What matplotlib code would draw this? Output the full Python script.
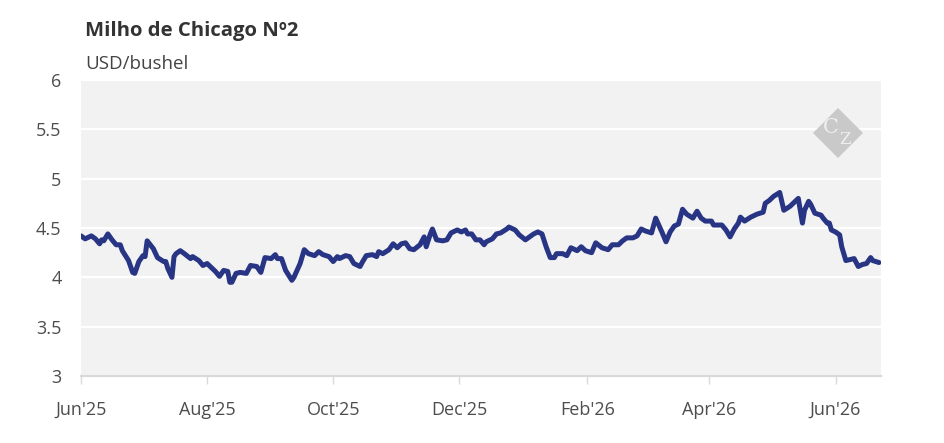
import matplotlib
matplotlib.use("Agg")
import matplotlib.pyplot as plt
from matplotlib.patches import Polygon
import pandas as pd

plt.rcParams['font.family'] = ['Open Sans', 'DejaVu Sans']

# data (USD/bushel)
dates = [
    "2025-06-01", "2025-06-03", "2025-06-06", "2025-06-08", "2025-06-10", "2025-06-11", "2025-06-12",
    "2025-06-14", "2025-06-16", "2025-06-18", "2025-06-20", "2025-06-21", "2025-06-24", "2025-06-26",
    "2025-06-27", "2025-06-29", "2025-07-01", "2025-07-02", "2025-07-03", "2025-07-06", "2025-07-08",
    "2025-07-11", "2025-07-12", "2025-07-13", "2025-07-15", "2025-07-16", "2025-07-17", "2025-07-19",
    "2025-07-21", "2025-07-24", "2025-07-25", "2025-07-28", "2025-07-30", "2025-08-01", "2025-08-03",
    "2025-08-05", "2025-08-07", "2025-08-09", "2025-08-11", "2025-08-12", "2025-08-13", "2025-08-15",
    "2025-08-17", "2025-08-20", "2025-08-22", "2025-08-25", "2025-08-27", "2025-08-29", "2025-09-01",
    "2025-09-03", "2025-09-04", "2025-09-06", "2025-09-08", "2025-09-11", "2025-09-12", "2025-09-15",
    "2025-09-17", "2025-09-19", "2025-09-22", "2025-09-24", "2025-09-26", "2025-09-29", "2025-10-01",
    "2025-10-03", "2025-10-04", "2025-10-07", "2025-10-09", "2025-10-11", "2025-10-14", "2025-10-15",
    "2025-10-17", "2025-10-20", "2025-10-22", "2025-10-23", "2025-10-25", "2025-10-28", "2025-10-30",
    "2025-11-01", "2025-11-03", "2025-11-05", "2025-11-07", "2025-11-09", "2025-11-12", "2025-11-14",
    "2025-11-15", "2025-11-17", "2025-11-18", "2025-11-20", "2025-11-23", "2025-11-25", "2025-11-27",
    "2025-11-30", "2025-12-02", "2025-12-04", "2025-12-05", "2025-12-07", "2025-12-09", "2025-12-11",
    "2025-12-13", "2025-12-14", "2025-12-16", "2025-12-17", "2025-12-19", "2025-12-21", "2025-12-24",
    "2025-12-25", "2025-12-28", "2025-12-30", "2026-01-02", "2026-01-04", "2026-01-06", "2026-01-08",
    "2026-01-10", "2026-01-12", "2026-01-14", "2026-01-16", "2026-01-17", "2026-01-20", "2026-01-22",
    "2026-01-24", "2026-01-27", "2026-01-29", "2026-01-31", "2026-02-03", "2026-02-05", "2026-02-08",
    "2026-02-11", "2026-02-13", "2026-02-16", "2026-02-18", "2026-02-20", "2026-02-23", "2026-02-25",
    "2026-02-27", "2026-03-01", "2026-03-04", "2026-03-06", "2026-03-09", "2026-03-11", "2026-03-13",
    "2026-03-15", "2026-03-17", "2026-03-19", "2026-03-21", "2026-03-24", "2026-03-26", "2026-03-28",
    "2026-03-30", "2026-04-02", "2026-04-03", "2026-04-07", "2026-04-09", "2026-04-11", "2026-04-13",
    "2026-04-15", "2026-04-16", "2026-04-18", "2026-04-21", "2026-04-24", "2026-04-27", "2026-04-28",
    "2026-04-30", "2026-05-02", "2026-05-05", "2026-05-07", "2026-05-10", "2026-05-12", "2026-05-14",
    "2026-05-16", "2026-05-17", "2026-05-19", "2026-05-20", "2026-05-22", "2026-05-25", "2026-05-26",
    "2026-05-28", "2026-05-29", "2026-05-30", "2026-06-01", "2026-06-03", "2026-06-04", "2026-06-06",
    "2026-06-08", "2026-06-10", "2026-06-12", "2026-06-14", "2026-06-16", "2026-06-18", "2026-06-19",
    "2026-06-22",
]
prices = [
    4.42, 4.39, 4.42, 4.39, 4.34, 4.38, 4.37,
    4.44, 4.38, 4.33, 4.33, 4.27, 4.17, 4.05,
    4.04, 4.16, 4.22, 4.21, 4.37, 4.29, 4.20,
    4.16, 4.16, 4.09, 4.00, 4.21, 4.24, 4.27,
    4.24, 4.19, 4.21, 4.17, 4.12, 4.14, 4.10,
    4.06, 4.01, 4.07, 4.06, 3.95, 3.95, 4.04,
    4.05, 4.04, 4.12, 4.11, 4.05, 4.20, 4.19,
    4.23, 4.19, 4.19, 4.07, 3.97, 4.00, 4.14,
    4.28, 4.24, 4.22, 4.26, 4.23, 4.21, 4.16,
    4.21, 4.19, 4.22, 4.21, 4.14, 4.11, 4.15,
    4.22, 4.23, 4.21, 4.26, 4.24, 4.28, 4.34,
    4.30, 4.34, 4.35, 4.29, 4.28, 4.33, 4.41,
    4.31, 4.44, 4.49, 4.38, 4.37, 4.38, 4.45,
    4.48, 4.46, 4.48, 4.44, 4.44, 4.38, 4.38,
    4.33, 4.36, 4.38, 4.39, 4.44, 4.45, 4.49,
    4.51, 4.48, 4.43, 4.38, 4.41, 4.44, 4.46,
    4.44, 4.31, 4.20, 4.20, 4.24, 4.24, 4.22,
    4.30, 4.27, 4.31, 4.27, 4.25, 4.35, 4.30,
    4.28, 4.33, 4.33, 4.37, 4.40, 4.40, 4.42,
    4.49, 4.47, 4.45, 4.60, 4.46, 4.36, 4.46,
    4.52, 4.54, 4.69, 4.64, 4.60, 4.67, 4.60,
    4.57, 4.57, 4.53, 4.53, 4.48, 4.41, 4.49,
    4.55, 4.61, 4.57, 4.61, 4.64, 4.66, 4.75,
    4.78, 4.82, 4.86, 4.68, 4.72, 4.76, 4.80,
    4.55, 4.68, 4.77, 4.74, 4.65, 4.63, 4.60,
    4.55, 4.55, 4.48, 4.46, 4.43, 4.31, 4.17,
    4.18, 4.19, 4.11, 4.13, 4.14, 4.20, 4.17,
    4.15,
]
tick_dates = ["2025-06-01", "2025-08-01", "2025-10-01", "2025-12-01",
              "2026-02-01", "2026-04-01", "2026-06-01"]
tick_labels = ["Jun'25", "Aug'25", "Oct'25", "Dec'25", "Feb'26", "Apr'26", "Jun'26"]
y_ticks = [3, 3.5, 4, 4.5, 5, 5.5, 6]

title = "Milho de Chicago Nº2"
unit = "USD/bushel"

x = pd.to_datetime(dates)

fig = plt.figure(figsize=(9.45, 4.43), dpi=100)
ax = fig.add_axes([81 / 945, 1 - 376 / 443, 800 / 945, 296 / 443])
ax.set_facecolor("#f2f2f2")

ax.plot(x, prices, color="#283584", lw=3.6, solid_joinstyle="round",
        solid_capstyle="round", zorder=3)

ax.set_xlim(x[0], pd.Timestamp("2026-06-23"))
ax.set_ylim(3, 6)
ax.set_yticks(y_ticks)
ax.set_yticklabels([f"{v:g}" for v in y_ticks])
ax.set_xticks(pd.to_datetime(tick_dates))
ax.set_xticklabels(tick_labels)

ax.grid(axis="y", color="white", lw=1.6, zorder=1)
ax.grid(axis="x", visible=False)
for s in ["top", "right", "left"]:
    ax.spines[s].set_visible(False)
ax.spines["bottom"].set_color("#d9d9d9")
ax.spines["bottom"].set_linewidth(1.6)
ax.spines["bottom"].set_zorder(2)

ax.tick_params(axis="y", length=0, pad=14, labelsize=13, labelcolor="#4d4d4d")
ax.tick_params(axis="x", length=6, width=1, color="#d9d9d9", pad=12,
               labelsize=13, labelcolor="#4d4d4d")

fig.text(85 / 945, 1 - 36 / 443, title, fontsize=14.6, fontweight="bold", color="#333333")
fig.text(85 / 945, 1 - 69 / 443, unit, fontsize=13.5, color="#444444")

# CZ logo diamond
cx, cy, r = 838, 133, 25
diamond = Polygon([(cx / 945, 1 - (cy - r) / 443), ((cx + r) / 945, 1 - cy / 443),
                   (cx / 945, 1 - (cy + r) / 443), ((cx - r) / 945, 1 - cy / 443)],
                  closed=True, transform=fig.transFigure, facecolor="#c9c9c9",
                  edgecolor="none", zorder=4)
fig.patches.append(diamond)
fig.text((cx - 7) / 945, 1 - (cy - 5) / 443, "C", fontsize=15, family="DejaVu Serif",
         color="#eeeeee", ha="center", va="center", zorder=5)
fig.text((cx + 7) / 945, 1 - (cy + 7) / 443, "Z", fontsize=12, family="DejaVu Serif",
         color="#eeeeee", ha="center", va="center", zorder=5)

fig.savefig("out.png", dpi=100)
